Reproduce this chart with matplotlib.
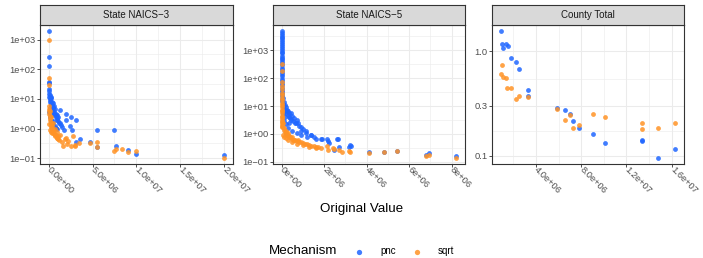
import numpy as np
import matplotlib
matplotlib.use('Agg')
import matplotlib.pyplot as plt
from matplotlib.ticker import FixedLocator, FixedFormatter, NullFormatter
from matplotlib.lines import Line2D

plt.rcParams['font.family'] = ['Liberation Sans', 'DejaVu Sans']

# ---------------- data (x in millions) ----------------
facets = ["State NAICS\u22123", "State NAICS\u22125", "County Total"]
mechanisms = ["pnc", "sqrt"]

n3_pnc_x = [0.02, 0.03, 0.03, 0.04, 0.05, 0.06, 0.05, 0.08, 0.10, 0.12, 0.15, 0.18, 0.20, 0.22, 0.25,
            0.28, 0.30, 0.33, 0.35, 0.38, 0.40, 0.42, 0.45, 0.48, 0.50, 0.55, 0.60, 0.62, 0.65, 0.70,
            0.75, 0.80, 0.85, 0.90, 0.95, 1.00, 1.05, 1.10, 1.20, 1.30, 1.40, 1.55, 1.70, 1.33, 2.02,
            2.02, 2.59, 3.09, 2.48, 2.70, 3.54, 3.09, 4.69, 5.56, 5.50, 7.43, 7.62, 9.03, 9.94, 20.0,
            0.10, 0.20, 0.30, 0.45, 0.55, 0.70, 0.85, 1.00, 0.15, 0.35]
n3_pnc_y = [1900, 250, 130, 37, 34, 22, 18, 15, 12, 10.5, 14, 9, 8, 12, 7,
            6.5, 11, 5.5, 8, 4.8, 6.5, 4.2, 5, 7.5, 3.8, 5.5, 3.5, 6, 3.0, 4.5,
            2.8, 3.2, 2.5, 2.2, 2.9, 2.0, 1.8, 2.4, 1.6, 1.5, 1.3, 1.1, 0.9, 4.4, 3.2,
            1.95, 2.5, 1.9, 1.22, 0.87, 0.45, 0.355, 0.355, 0.87, 0.245, 0.88, 0.27, 0.19, 0.145, 0.125,
            3.5, 2.5, 2.0, 1.8, 1.4, 1.2, 1.05, 0.95, 5.0, 2.8]

n3_sqrt_x = [0.02, 0.03, 0.04, 0.05, 0.06, 0.08, 0.10, 0.12, 0.15, 0.18, 0.20, 0.22, 0.25, 0.28, 0.30,
             0.33, 0.35, 0.38, 0.40, 0.45, 0.50, 0.55, 0.60, 0.65, 0.70, 0.75, 0.80, 0.90, 1.00, 1.10,
             1.20, 1.30, 0.30, 0.50, 0.70, 0.90, 1.10, 1.50, 1.64, 1.90, 2.00, 2.10, 2.20, 2.50, 2.80,
             3.00, 3.05, 3.50, 4.69, 5.50, 5.56, 7.43, 7.62, 8.40, 9.06, 9.97, 20.0, 0.10, 0.20, 0.40]
n3_sqrt_y = [950, 50, 30, 6, 4.5, 3.8, 3.2, 2.6, 2.2, 4.0, 1.9, 1.6, 1.5, 1.3, 2.5,
             1.1, 1.2, 0.95, 1.0, 0.85, 0.75, 0.9, 0.65, 0.7, 0.6, 0.55, 0.62, 0.5, 0.48, 0.45,
             0.42, 0.6, 0.8, 1.5, 1.0, 0.8, 0.55, 0.35, 0.27, 0.45, 0.5, 0.3, 0.38, 0.26, 0.55,
             0.28, 0.25, 0.32, 0.33, 0.24, 0.36, 0.18, 0.21, 0.2, 0.166, 0.175, 0.105, 1.4, 0.9, 0.7]

n5_pnc_x = [0.002, 0.004, 0.006, 0.003, 0.008, 0.005, 0.010, 0.004, 0.007, 0.012, 0.006, 0.009, 0.011, 0.005,
            0.013, 0.008, 0.015, 0.010, 0.012, 0.016, 0.014, 0.018, 0.011, 0.020, 0.017, 0.022, 0.015, 0.025,
            0.019, 0.028, 0.024, 0.030, 0.026, 0.032,
            0.03, 0.05, 0.06, 0.08, 0.10, 0.12, 0.15, 0.18, 0.20, 0.22, 0.25, 0.28, 0.30, 0.33, 0.36, 0.40,
            0.43, 0.46, 0.50, 0.55, 0.60, 0.65, 0.68, 0.72, 0.76, 0.80, 0.90, 1.00, 1.15, 1.38, 1.62, 1.86,
            2.12, 2.17, 2.25, 2.60, 2.64, 2.72, 2.44, 3.16, 3.22, 3.28, 4.10, 4.81, 5.43, 6.78, 6.92, 8.22,
            0.10, 0.20, 0.30, 0.50, 0.70, 0.90, 1.20, 0.15, 0.35, 1.50, 0.90, 1.13, 1.37, 1.92, 0.05, 0.08]
n5_pnc_y = [4800, 4200, 3600, 3100, 2700, 2300, 2000, 1700, 1450, 1250, 1050, 900, 780, 650,
            550, 470, 400, 340, 290, 240, 200, 170, 140, 115, 95, 80, 65, 55,
            45, 38, 32, 27, 22, 18,
            15, 12, 20, 10, 14, 8, 11, 6.5, 9, 5.5, 7.5, 4.8, 6.5, 4.2, 5.5, 3.6,
            5.8, 3.2, 4.5, 2.8, 3.8, 2.5, 2.4, 3.2, 2.5, 2.0, 1.8, 1.5, 1.23, 0.93, 0.66, 0.67,
            0.68, 0.55, 0.46, 0.63, 0.63, 0.33, 0.26, 0.35, 0.39, 0.37, 0.23, 0.23, 0.25, 0.17, 0.2, 0.16,
            3.0, 2.2, 1.6, 1.3, 1.1, 0.9, 0.75, 4.0, 2.5, 0.8, 1.3, 1.1, 0.93, 0.67, 6.0, 5.0]

n5_sqrt_x = [0.010, 0.012, 0.008, 0.010, 0.015, 0.012, 0.018, 0.014, 0.020, 0.016, 0.022, 0.018, 0.025, 0.020,
             0.028, 0.024, 0.030, 0.026, 0.032, 0.028, 0.035, 0.030, 0.038,
             0.05, 0.08, 0.10, 0.12, 0.15, 0.18, 0.20, 0.22, 0.25, 0.28, 0.30, 0.33, 0.36, 0.40, 0.45, 0.50,
             0.55, 0.60, 0.65, 0.70, 0.75, 0.80, 0.90, 1.00, 1.10, 1.20, 1.30, 1.40, 1.50, 1.60, 1.70, 1.86,
             2.12, 2.17, 2.40, 2.45, 2.72, 2.83, 3.18, 3.22, 4.10, 4.81, 5.43, 6.78, 6.92, 8.22,
             0.05, 0.10, 0.20, 0.30, 0.50, 0.70, 1.00, 1.30, 1.60]
n5_sqrt_y = [335, 180, 74, 52, 40, 30, 24, 19, 16, 13, 11, 9, 7.5, 6.5,
             5.5, 4.5, 4.0, 3.5, 3.0, 2.6, 2.2, 2.0, 1.8,
             2.5, 1.8, 1.6, 1.4, 1.2, 1.1, 1.3, 1.0, 0.95, 0.88, 1.1, 0.82, 0.78, 0.75, 0.7, 0.8,
             0.62, 0.6, 0.58, 0.55, 0.6, 0.52, 0.5, 0.47, 0.44, 0.42, 0.4, 0.38, 0.36, 0.35, 0.33, 0.32,
             0.37, 0.26, 0.3, 0.29, 0.26, 0.23, 0.24, 0.22, 0.21, 0.22, 0.24, 0.165, 0.18, 0.14,
             0.9, 0.8, 0.7, 0.6, 0.5, 0.45, 0.4, 0.35, 0.3]

ct_pnc_x = [0.886, 0.97, 1.12, 1.36, 1.50, 1.80, 2.24, 2.47, 3.26, 3.26, 5.90, 6.60, 7.02, 7.25,
            7.78, 9.04, 10.07, 13.39, 13.42, 14.77, 16.32]
ct_pnc_y = [1.55, 1.18, 1.075, 1.165, 1.12, 0.87, 0.786, 0.68, 0.423, 0.37, 0.286, 0.275, 0.249, 0.215,
            0.186, 0.163, 0.132, 0.138, 0.141, 0.096, 0.116]
ct_sqrt_x = [0.97, 0.886, 1.12, 1.36, 1.47, 1.80, 2.24, 2.47, 3.26, 5.90, 6.60, 7.02, 7.25, 7.78,
             9.04, 10.07, 13.39, 13.39, 14.77, 16.32]
ct_sqrt_y = [0.742, 0.61, 0.562, 0.55, 0.442, 0.445, 0.348, 0.377, 0.366, 0.28, 0.221, 0.245, 0.186, 0.195,
             0.252, 0.235, 0.206, 0.179, 0.185, 0.206]

x_breaks = [[0, 5, 10, 15, 20], [0, 2, 4, 6, 8], [4, 8, 12, 16]]
x_labels = [["0.0e+00", "5.0e+06", "1.0e+07", "1.5e+07", "2.0e+07"],
            ["0e+00", "2e+06", "4e+06", "6e+06", "8e+06"],
            ["4.0e+06", "8.0e+06", "1.2e+07", "1.6e+07"]]
y_breaks = [[0.1, 1, 10, 100, 1000], [0.1, 1, 10, 100, 1000], [0.1, 0.3, 1.0]]
y_labels = [["1e\u221201", "1e+00", "1e+01", "1e+02", "1e+03"],
            ["1e\u221201", "1e+00", "1e+01", "1e+02", "1e+03"],
            ["0.1", "0.3", "1.0"]]

series = [((n3_pnc_x, n3_pnc_y), (n3_sqrt_x, n3_sqrt_y)),
          ((n5_pnc_x, n5_pnc_y), (n5_sqrt_x, n5_sqrt_y)),
          ((ct_pnc_x, ct_pnc_y), (ct_sqrt_x, ct_sqrt_y))]

colors = {"pnc": "#1F66FF", "sqrt": "#FF9326"}
ALPHA = 0.85

# ---------------- layout ----------------
W, H = 703, 258
fig = plt.figure(figsize=(W / 100, H / 100), dpi=100)
panels_px = [(40, 233), (273, 465), (492, 684)]
ptop, pbot = 25, 164
strip_top = 5

def fx(px):
    return px / W

def fy(py):
    return 1 - py / H

grid_c = "#EBEBEB"
dark = "#333333"

for i, (l, r) in enumerate(panels_px):
    ax = fig.add_axes([fx(l), fy(pbot), fx(r - l), (pbot - ptop) / H])
    for mech, (xs, ys) in zip(mechanisms, series[i]):
        xs = np.asarray(xs) * 1e6
        ax.scatter(xs, ys, s=12, color=colors[mech], alpha=ALPHA, linewidths=0, zorder=3)
    ax.set_yscale('log')
    # limits with 5% expansion (ggplot style)
    allx = np.concatenate([np.asarray(s[0]) for s in series[i]]) * 1e6
    ally = np.log10(np.concatenate([np.asarray(s[1]) for s in series[i]]))
    dx = (allx.max() - allx.min()) * 0.05
    dy = (ally.max() - ally.min()) * 0.05
    ax.set_xlim(allx.min() - dx, allx.max() + dx)
    ax.set_ylim(10 ** (ally.min() - dy), 10 ** (ally.max() + dy))

    xb = np.array(x_breaks[i]) * 1e6
    ax.xaxis.set_major_locator(FixedLocator(xb))
    ax.xaxis.set_major_formatter(FixedFormatter(x_labels[i]))
    step = xb[1] - xb[0]
    xminor = np.arange(xb[0] - step / 2, xb[-1] + step, step)
    ax.xaxis.set_minor_locator(FixedLocator(xminor))
    ax.xaxis.set_minor_formatter(NullFormatter())

    yb = np.array(y_breaks[i])
    ax.yaxis.set_major_locator(FixedLocator(yb))
    ax.yaxis.set_major_formatter(FixedFormatter(y_labels[i]))
    lyb = np.log10(yb)
    mids = list((lyb[:-1] + lyb[1:]) / 2)
    mids = [lyb[0] - (lyb[1] - lyb[0]) / 2] + mids + [lyb[-1] + (lyb[-1] - lyb[-2]) / 2]
    ax.yaxis.set_minor_locator(FixedLocator(10 ** np.array(mids)))
    ax.yaxis.set_minor_formatter(NullFormatter())

    ax.grid(True, which='major', color=grid_c, lw=0.75, zorder=0)
    ax.grid(True, which='minor', color=grid_c, lw=0.4, zorder=0)
    ax.set_axisbelow(True)
    for sp in ax.spines.values():
        sp.set_color(dark)
        sp.set_linewidth(0.8)
    ax.tick_params(which='major', length=2.2, width=0.6, color=dark, labelsize=6.7,
                   labelcolor="#4D4D4D", pad=1.0)
    ax.tick_params(which='minor', length=0)
    for lab in ax.get_xticklabels():
        lab.set_rotation(-45)
        lab.set_ha('left')
        lab.set_va('center')
        lab.set_rotation_mode('anchor')

    # strip
    sax = fig.add_axes([fx(l), fy(ptop), fx(r - l), (ptop - strip_top) / H])
    sax.set_facecolor("#D9D9D9")
    sax.set_xticks([])
    sax.set_yticks([])
    for sp in sax.spines.values():
        sp.set_color(dark)
        sp.set_linewidth(0.8)
    sax.text(0.5, 0.5, facets[i], ha='center', va='center', fontsize=7.0, color="#1A1A1A",
             transform=sax.transAxes)

fig.text(fx(362), fy(209), "Original Value", ha='center', va='center', fontsize=9.6, color='black')

# legend
fig.text(fx(269), fy(251.5), "Mechanism", ha='left', va='center', fontsize=9.6, color='black')
for mech, px in zip(mechanisms, [359, 417]):
    fig.add_artist(Line2D([fx(px)], [fy(251.5)], marker='o', markersize=3.8, color=colors[mech],
                          alpha=ALPHA, markeredgewidth=0, linestyle='None', transform=fig.transFigure))
    fig.text(fx(px + 21), fy(251.5), mech, ha='left', va='center', fontsize=7.0, color='black')

fig.savefig("out.png", dpi=100)
